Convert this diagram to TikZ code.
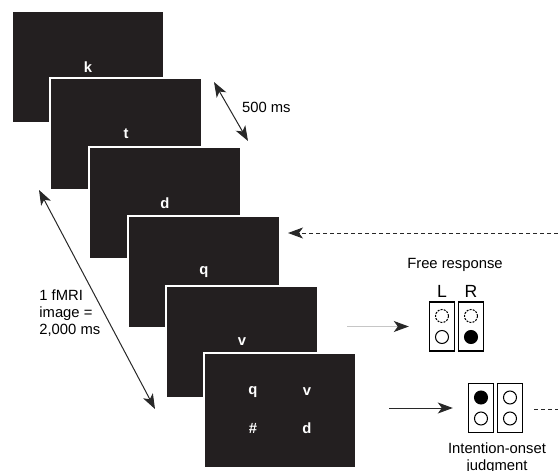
\documentclass[tikz,border=0pt]{standalone}
\usepackage{fontspec}
\setmainfont{Liberation Sans}
\usetikzlibrary{arrows.meta}
\definecolor{scrn}{RGB}{35,31,32}
\definecolor{ink}{RGB}{40,40,40}

\begin{document}
\begin{tikzpicture}[x=0.5pt, y=-0.5pt,
>={Stealth[length=7.5pt, width=5.5pt, inset=2pt]},
every node/.style={font=\fontsize{7.4}{8.5}\selectfont},
screen/.style={rectangle, draw=white, line width=0.9pt, fill=scrn, text=white,
      font=\fontsize{7.4}{8.5}\selectfont\bfseries,
      minimum width=76pt, minimum height=56pt, inner sep=0pt, outer sep=0pt},
glyph/.style={text=white, font=\fontsize{7.4}{8.5}\selectfont\bfseries},
key/.style={rectangle, draw, line width=0.7pt, minimum width=12.5pt, minimum height=24.5pt, inner sep=0pt},
lamp/.style={circle, draw, line width=0.5pt, minimum size=6.5pt, inner sep=0pt},
link/.style={draw=ink, line width=0.5pt},]
 \useasboundingbox (0,0) rectangle (558,471);

 % stacked screens
 \node[screen] (s1) at (88,67) {k};
 \node[screen] (s2) at (126,134) {t};
 \node[screen] (s3) at (165,203) {d};
 \node[screen] (s4) at (204,272) {q};
 \node[screen] (s5) at (242,342) {v};
 \node[screen, minimum height=57.5pt] (s6) at (280,410.5) {};
 \node[glyph] (s6q) at (253,392) {q};
 \node[glyph] (s6v) at (307,392) {v};
 \node[glyph] (s6h) at (253,428) {\#};
 \node[glyph] (s6d) at (307,428) {d};

 % timing
 \coordinate (tA) at (214,82);
 \coordinate (tB) at (248,141);
 \draw[link, <->] (tA) -- (tB);
 \node[anchor=west] (t500) at (235,107) {500 ms};
 \coordinate (fA) at (39,190);
 \coordinate (fB) at (155,409);
 \draw[link, <->] (fA) -- (fB);
 \node[anchor=west, align=left, inner sep=0pt] (fmri) at (39,313) {1 fMRI\\image =\\2,000 ms};

 % free response
 \node[key] (lbox) at (442,326.5) {};
 \node[key, right of=lbox, node distance=14.5pt] (rbox) {};
 \node[lamp, dashed, dash pattern=on 1pt off 0.6pt, above of=lbox, node distance=5.25pt] (lup) {};
 \node[lamp, below of=lbox, node distance=5.25pt] (llo) {};
 \node[lamp, dashed, dash pattern=on 1pt off 0.6pt, above of=rbox, node distance=5.25pt] (rup) {};
 \node[lamp, fill=black, below of=rbox, node distance=5.25pt] (rlo) {};
 \node[above of=lbox, node distance=17.75pt, font=\fontsize{8.8}{10}\selectfont] (lL) {L};
 \node[above of=rbox, node distance=17.75pt, font=\fontsize{8.8}{10}\selectfont] (lR) {R};
 \node (free) at (455,265) {Free response};

 % intention-onset judgment
 \node[key] (ibox1) at (481,408) {};
 \node[key, right of=ibox1, node distance=14.5pt] (ibox2) {};
 \node[lamp, fill=black, above of=ibox1, node distance=5.25pt] (i1up) {};
 \node[lamp, below of=ibox1, node distance=5.25pt] (i1lo) {};
 \node[lamp, above of=ibox2, node distance=5.25pt] (i2up) {};
 \node[lamp, below of=ibox2, node distance=5.25pt] (i2lo) {};
 \node[align=center, inner sep=0pt] (judge) at (497,458) {Intention-onset\\judgment};

 % connectors
 \coordinate (gA) at (347,326.5);
 \draw[draw=gray!45, line width=0.5pt, -{Stealth[length=7.5pt, width=5.5pt, inset=2pt, ink]}, shorten >=10pt] (gA) -- (lbox);
 \coordinate (jA) at (389,408);
 \draw[link, ->, shorten >=7.5pt] (jA) -- (ibox1);
 \coordinate (bA) at (558,233);
 \coordinate (bB) at (288,233);
 \draw[link, ->, dash pattern=on 2pt off 1.5pt] (bA) -- (bB);
 \coordinate (dA) at (534,409);
 \coordinate (dB) at (558,409);
 \draw[link, dash pattern=on 2pt off 1.5pt] (dA) -- (dB);

\end{tikzpicture}
\end{document}
